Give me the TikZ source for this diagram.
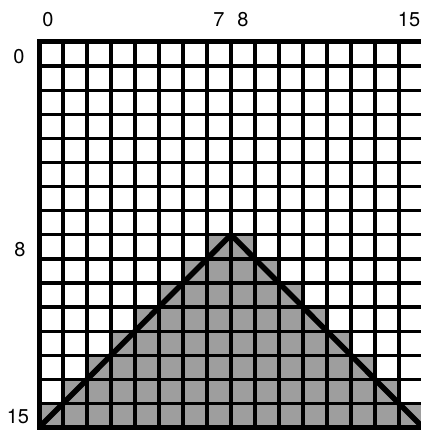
\documentclass[tikz,border=0pt]{standalone}
\usepackage{fontspec}
\setmainfont{TeX Gyre Heros}
\begin{document}
\begin{tikzpicture}[x=1pt,y=-1pt,
  lbl/.style={font=\fontsize{20}{22}\selectfont, inner sep=0pt},
  gridline/.style={line width=3.3pt},
  border/.style={line width=5pt},
  edge/.style={line width=5.5pt, line join=miter},
  shadecell/.style={fill=black!38}]
\useasboundingbox (0,0) rectangle (420,430);
\def\cw{24}\def\ch{24.1}\def\gx{39}\def\gy{42}
% shaded cells
\foreach \r in {8,...,15}{
  \pgfmathtruncatemacro\a{15-\r}
  \foreach \c in {\a,...,\r}{
    \fill[shadecell] ({\gx+\c*\cw},{\gy+\r*\ch}) rectangle ++(\cw,\ch);
  }}
% grid lines
\foreach \i in {1,...,15}{
  \draw[gridline] ({\gx+\i*\cw},\gy) -- ({\gx+\i*\cw},{\gy+16*\ch});
  \draw[gridline] (\gx,{\gy+\i*\ch}) -- ({\gx+16*\cw},{\gy+\i*\ch});
}
\draw[border] (\gx,\gy) rectangle ({\gx+16*\cw},{\gy+16*\ch});
% triangle
\coordinate (bl) at (\gx,{\gy+16*\ch});
\coordinate (apex) at ({\gx+8*\cw},{\gy+8*\ch});
\coordinate (br) at ({\gx+16*\cw},{\gy+16*\ch});
\draw[edge] (bl) -- (apex) -- (br);
% labels
\node[lbl] (c0) at (48,20) {0};
\node[lbl] (c7) at (219,20) {7};
\node[lbl] (c8) at (243,20) {8};
\node[lbl] (c15) at (409,20) {15};
\node[lbl] (r0) at (19,57) {0};
\node[lbl] (r8) at (20,250) {8};
\node[lbl] (r15) at (18,417) {15};
\end{tikzpicture}
\end{document}
